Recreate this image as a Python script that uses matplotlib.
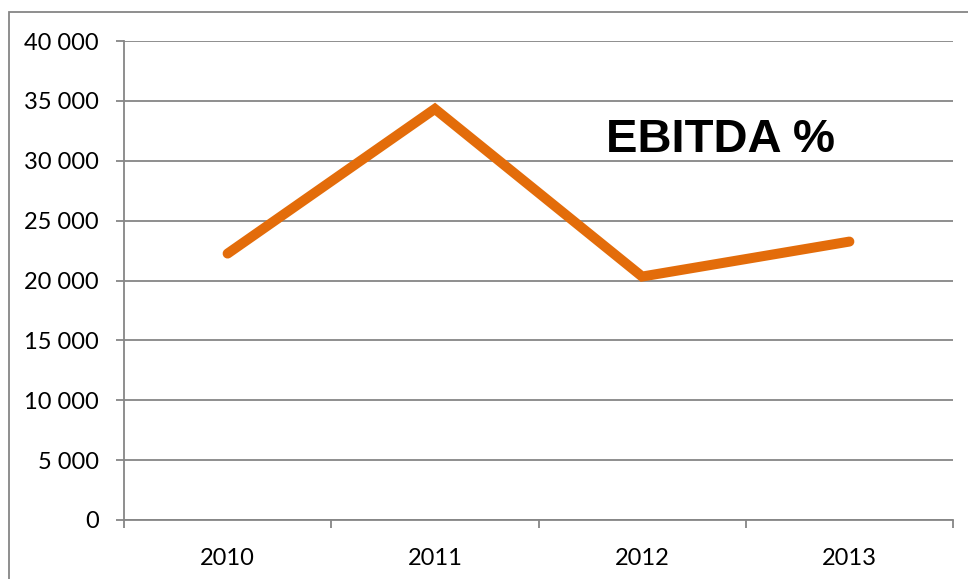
import matplotlib
matplotlib.use("Agg")
import matplotlib.pyplot as plt
from matplotlib.patches import Rectangle
from matplotlib.ticker import FuncFormatter, FixedLocator

years = ["2010", "2011", "2012", "2013"]
values = [22250, 34330, 20330, 23250]
yticks = [0, 5000, 10000, 15000, 20000, 25000, 30000, 35000, 40000]
title_text = "EBITDA %"

GRAY = "#868686"
ORANGE = "#E36C0A"

fig = plt.figure(figsize=(9.68, 5.79), dpi=100)
fig.patch.set_facecolor("white")

# outer chart border (clipped at right and bottom)
fig.patches.append(Rectangle((8.5 / 968, -0.2), 1.2, 1.2 - 12 / 579 + 0.0,
                             transform=fig.transFigure, fill=False,
                             edgecolor=GRAY, linewidth=1.3))

ax = fig.add_axes([124 / 968, 1 - 520 / 579, (953 - 124) / 968, (520 - 41) / 579])
x = list(range(len(years)))
ax.plot(x, values, color=ORANGE, linewidth=7.2, solid_capstyle="round",
        solid_joinstyle="miter", zorder=3)

ax.set_xlim(-0.5, len(years) - 0.5)
ax.set_ylim(0, 40000)
ax.set_yticks(yticks)
ax.yaxis.set_major_formatter(FuncFormatter(lambda v, p: f"{int(v):,}".replace(",", " ")))
ax.grid(axis="y", color=GRAY, linewidth=1.3, zorder=1)
ax.set_axisbelow(True)

for s in ["top", "right"]:
    ax.spines[s].set_visible(False)
for s in ["left", "bottom"]:
    ax.spines[s].set_color(GRAY)
    ax.spines[s].set_linewidth(1.3)

ax.tick_params(axis="y", direction="out", length=6, width=1.3, color=GRAY,
               pad=12, labelsize=17, labelcolor="black")
ax.yaxis.set_tick_params(labelfontfamily="Lato")

# x: ticks at boundaries, labels at category centers
ax.xaxis.set_major_locator(FixedLocator([i - 0.5 for i in range(len(years) + 1)]))
ax.xaxis.set_minor_locator(FixedLocator(x))
ax.set_xticklabels([""] * (len(years) + 1))
ax.set_xticklabels(years, minor=True)
ax.tick_params(axis="x", which="major", direction="out", length=6, width=1.3, color=GRAY)
ax.tick_params(axis="x", which="minor", length=0, pad=20, labelsize=17, labelcolor="black")
for lbl in ax.get_xticklabels(minor=True) + ax.get_yticklabels():
    lbl.set_fontfamily("Lato")

ax.text(606, 579 - 152, title_text, transform=None, fontsize=34,
        fontweight="bold", family="Liberation Sans", ha="left", va="baseline",
        color="black")

fig.savefig("out.png", dpi=100, facecolor="white")
